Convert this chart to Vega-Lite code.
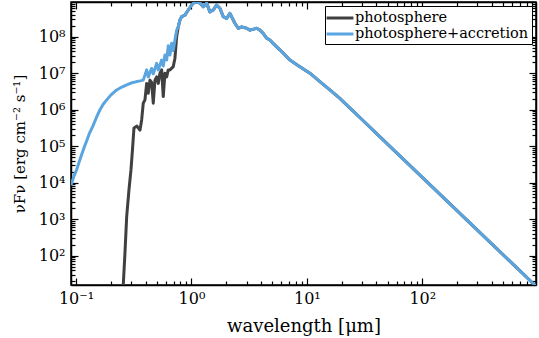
{
  "$schema": "https://vega.github.io/schema/vega-lite/v6.json",
  "width": 465,
  "height": 283,
  "autosize": {"type": "none"},
  "padding": {"left": 71, "top": 2, "right": 3, "bottom": 53},
  "background": "white",
  "config": {
    "view": {"stroke": "black", "strokeWidth": 1.5},
    "font": "DejaVu Serif",
    "axis": {
      "labelFont": "DejaVu Serif",
      "titleFont": "DejaVu Serif",
      "labelColor": "black",
      "titleColor": "black",
      "domainColor": "black",
      "domainWidth": 1.5,
      "tickColor": "black",
      "tickWidth": 1.2,
      "grid": false,
      "labelOverlap": false,
      "labelFlush": false
    },
    "legend": {"labelFont": "DejaVu Serif"}
  },
  "data": {
    "values": [
      {"series": "photosphere", "wl": 0.2529, "f": 6.3},
      {"series": "photosphere", "wl": 0.2567, "f": 15.8},
      {"series": "photosphere", "wl": 0.2655, "f": 117},
      {"series": "photosphere", "wl": 0.2748, "f": 1175},
      {"series": "photosphere", "wl": 0.2876, "f": 6310},
      {"series": "photosphere", "wl": 0.2993, "f": 22400},
      {"series": "photosphere", "wl": 0.3084, "f": 79400},
      {"series": "photosphere", "wl": 0.3178, "f": 316000},
      {"series": "photosphere", "wl": 0.3373, "f": 355000},
      {"series": "photosphere", "wl": 0.3581, "f": 275000},
      {"series": "photosphere", "wl": 0.3705, "f": 525000},
      {"series": "photosphere", "wl": 0.3825, "f": 1510000},
      {"series": "photosphere", "wl": 0.3957, "f": 1860000},
      {"series": "photosphere", "wl": 0.4093, "f": 5250000},
      {"series": "photosphere", "wl": 0.4227, "f": 2820000},
      {"series": "photosphere", "wl": 0.4372, "f": 6460000},
      {"series": "photosphere", "wl": 0.4523, "f": 5620000},
      {"series": "photosphere", "wl": 0.467, "f": 1510000},
      {"series": "photosphere", "wl": 0.4831, "f": 6460000},
      {"series": "photosphere", "wl": 0.4997, "f": 7940000},
      {"series": "photosphere", "wl": 0.516, "f": 5250000},
      {"series": "photosphere", "wl": 0.5337, "f": 10000000},
      {"series": "photosphere", "wl": 0.5521, "f": 12300000},
      {"series": "photosphere", "wl": 0.5699, "f": 2290000},
      {"series": "photosphere", "wl": 0.5896, "f": 10000000},
      {"series": "photosphere", "wl": 0.6099, "f": 7940000},
      {"series": "photosphere", "wl": 0.6296, "f": 12300000},
      {"series": "photosphere", "wl": 0.6514, "f": 12300000},
      {"series": "photosphere", "wl": 0.6957, "f": 15100000},
      {"series": "photosphere", "wl": 0.7197, "f": 25700000},
      {"series": "photosphere", "wl": 0.7446, "f": 100000000},
      {"series": "photosphere", "wl": 0.7688, "f": 186000000},
      {"series": "photosphere", "wl": 0.7953, "f": 288000000},
      {"series": "photosphere", "wl": 0.8228, "f": 355000000},
      {"series": "photosphere", "wl": 0.8784, "f": 389000000},
      {"series": "photosphere", "wl": 0.9383, "f": 537000000},
      {"series": "photosphere", "wl": 1.004, "f": 741000000},
      {"series": "photosphere", "wl": 1.072, "f": 912000000},
      {"series": "photosphere", "wl": 1.185, "f": 832000000},
      {"series": "photosphere", "wl": 1.265, "f": 661000000},
      {"series": "photosphere", "wl": 1.354, "f": 832000000},
      {"series": "photosphere", "wl": 1.446, "f": 479000000},
      {"series": "photosphere", "wl": 1.544, "f": 537000000},
      {"series": "photosphere", "wl": 1.653, "f": 741000000},
      {"series": "photosphere", "wl": 1.765, "f": 603000000},
      {"series": "photosphere", "wl": 1.885, "f": 355000000},
      {"series": "photosphere", "wl": 2.017, "f": 316000000},
      {"series": "photosphere", "wl": 2.154, "f": 437000000},
      {"series": "photosphere", "wl": 2.38, "f": 234000000},
      {"series": "photosphere", "wl": 2.542, "f": 170000000},
      {"series": "photosphere", "wl": 2.721, "f": 186000000},
      {"series": "photosphere", "wl": 3.005, "f": 170000000},
      {"series": "photosphere", "wl": 3.21, "f": 151000000},
      {"series": "photosphere", "wl": 3.668, "f": 170000000},
      {"series": "photosphere", "wl": 3.918, "f": 151000000},
      {"series": "photosphere", "wl": 4.184, "f": 123000000},
      {"series": "photosphere", "wl": 4.479, "f": 91200000},
      {"series": "photosphere", "wl": 4.783, "f": 81300000},
      {"series": "photosphere", "wl": 5.284, "f": 58900000},
      {"series": "photosphere", "wl": 5.837, "f": 43700000},
      {"series": "photosphere", "wl": 7.126, "f": 22900000},
      {"series": "photosphere", "wl": 8.698, "f": 15100000},
      {"series": "photosphere", "wl": 10.62, "f": 10000000},
      {"series": "photosphere", "wl": 12.96, "f": 5890000},
      {"series": "photosphere", "wl": 15.82, "f": 3470000},
      {"series": "photosphere", "wl": 19.31, "f": 2040000},
      {"series": "photosphere", "wl": 30, "f": 537000},
      {"series": "photosphere", "wl": 50, "f": 114000},
      {"series": "photosphere", "wl": 100, "f": 14000},
      {"series": "photosphere", "wl": 300, "f": 501},
      {"series": "photosphere", "wl": 1000, "f": 13.1},

      {"series": "photosphere+accretion", "wl": 0.0905, "f": 8500},
      {"series": "photosphere+accretion", "wl": 0.0918, "f": 9770},
      {"series": "photosphere+accretion", "wl": 0.096, "f": 15100},
      {"series": "photosphere+accretion", "wl": 0.1014, "f": 22900},
      {"series": "photosphere+accretion", "wl": 0.106, "f": 35500},
      {"series": "photosphere+accretion", "wl": 0.1116, "f": 57500},
      {"series": "photosphere+accretion", "wl": 0.118, "f": 95500},
      {"series": "photosphere+accretion", "wl": 0.1245, "f": 148000},
      {"series": "photosphere+accretion", "wl": 0.131, "f": 229000},
      {"series": "photosphere+accretion", "wl": 0.14, "f": 355000},
      {"series": "photosphere+accretion", "wl": 0.15, "f": 603000},
      {"series": "photosphere+accretion", "wl": 0.1614, "f": 1000000},
      {"series": "photosphere+accretion", "wl": 0.172, "f": 1410000},
      {"series": "photosphere+accretion", "wl": 0.1845, "f": 1860000},
      {"series": "photosphere+accretion", "wl": 0.2, "f": 2510000},
      {"series": "photosphere+accretion", "wl": 0.2249, "f": 3470000},
      {"series": "photosphere+accretion", "wl": 0.25, "f": 4170000},
      {"series": "photosphere+accretion", "wl": 0.2748, "f": 4790000},
      {"series": "photosphere+accretion", "wl": 0.3, "f": 5370000},
      {"series": "photosphere+accretion", "wl": 0.3357, "f": 5890000},
      {"series": "photosphere+accretion", "wl": 0.36, "f": 6170000},
      {"series": "photosphere+accretion", "wl": 0.3825, "f": 6460000},
      {"series": "photosphere+accretion", "wl": 0.4093, "f": 12300000},
      {"series": "photosphere+accretion", "wl": 0.4227, "f": 7940000},
      {"series": "photosphere+accretion", "wl": 0.4523, "f": 13500000},
      {"series": "photosphere+accretion", "wl": 0.467, "f": 9550000},
      {"series": "photosphere+accretion", "wl": 0.4997, "f": 18600000},
      {"series": "photosphere+accretion", "wl": 0.516, "f": 12300000},
      {"series": "photosphere+accretion", "wl": 0.5521, "f": 22900000},
      {"series": "photosphere+accretion", "wl": 0.5699, "f": 15800000},
      {"series": "photosphere+accretion", "wl": 0.5896, "f": 31600000},
      {"series": "photosphere+accretion", "wl": 0.6099, "f": 22900000},
      {"series": "photosphere+accretion", "wl": 0.6296, "f": 56200000},
      {"series": "photosphere+accretion", "wl": 0.6514, "f": 31600000},
      {"series": "photosphere+accretion", "wl": 0.6739, "f": 66100000},
      {"series": "photosphere+accretion", "wl": 0.6957, "f": 41700000},
      {"series": "photosphere+accretion", "wl": 0.7197, "f": 81300000},
      {"series": "photosphere+accretion", "wl": 0.7446, "f": 151000000},
      {"series": "photosphere+accretion", "wl": 0.7688, "f": 186000000},
      {"series": "photosphere+accretion", "wl": 0.7953, "f": 288000000},
      {"series": "photosphere+accretion", "wl": 0.8228, "f": 355000000},
      {"series": "photosphere+accretion", "wl": 0.8784, "f": 389000000},
      {"series": "photosphere+accretion", "wl": 0.9383, "f": 537000000},
      {"series": "photosphere+accretion", "wl": 1.004, "f": 741000000},
      {"series": "photosphere+accretion", "wl": 1.072, "f": 912000000},
      {"series": "photosphere+accretion", "wl": 1.185, "f": 832000000},
      {"series": "photosphere+accretion", "wl": 1.265, "f": 661000000},
      {"series": "photosphere+accretion", "wl": 1.354, "f": 832000000},
      {"series": "photosphere+accretion", "wl": 1.446, "f": 479000000},
      {"series": "photosphere+accretion", "wl": 1.544, "f": 537000000},
      {"series": "photosphere+accretion", "wl": 1.653, "f": 741000000},
      {"series": "photosphere+accretion", "wl": 1.765, "f": 603000000},
      {"series": "photosphere+accretion", "wl": 1.885, "f": 355000000},
      {"series": "photosphere+accretion", "wl": 2.017, "f": 316000000},
      {"series": "photosphere+accretion", "wl": 2.154, "f": 437000000},
      {"series": "photosphere+accretion", "wl": 2.38, "f": 234000000},
      {"series": "photosphere+accretion", "wl": 2.542, "f": 170000000},
      {"series": "photosphere+accretion", "wl": 2.721, "f": 186000000},
      {"series": "photosphere+accretion", "wl": 3.005, "f": 170000000},
      {"series": "photosphere+accretion", "wl": 3.21, "f": 151000000},
      {"series": "photosphere+accretion", "wl": 3.668, "f": 170000000},
      {"series": "photosphere+accretion", "wl": 3.918, "f": 151000000},
      {"series": "photosphere+accretion", "wl": 4.184, "f": 123000000},
      {"series": "photosphere+accretion", "wl": 4.479, "f": 91200000},
      {"series": "photosphere+accretion", "wl": 4.783, "f": 81300000},
      {"series": "photosphere+accretion", "wl": 5.284, "f": 58900000},
      {"series": "photosphere+accretion", "wl": 5.837, "f": 43700000},
      {"series": "photosphere+accretion", "wl": 7.126, "f": 22900000},
      {"series": "photosphere+accretion", "wl": 8.698, "f": 15100000},
      {"series": "photosphere+accretion", "wl": 10.62, "f": 10000000},
      {"series": "photosphere+accretion", "wl": 12.96, "f": 5890000},
      {"series": "photosphere+accretion", "wl": 15.82, "f": 3470000},
      {"series": "photosphere+accretion", "wl": 19.31, "f": 2040000},
      {"series": "photosphere+accretion", "wl": 30, "f": 537000},
      {"series": "photosphere+accretion", "wl": 50, "f": 114000},
      {"series": "photosphere+accretion", "wl": 100, "f": 14000},
      {"series": "photosphere+accretion", "wl": 300, "f": 501},
      {"series": "photosphere+accretion", "wl": 1000, "f": 13.1}
    ]
  },
  "layer": [
    {
      "mark": {"type": "line", "strokeWidth": 3, "clip": true, "strokeJoin": "round"},
      "encoding": {
        "x": {
          "field": "wl", "type": "quantitative",
          "scale": {"type": "log", "domain": [0.0905, 966], "nice": false},
          "axis": {
            "orient": "bottom",
            "title": "wavelength [μm]",
            "titleFontSize": 18, "titleFontWeight": "normal", "titlePadding": 8,
            "labelFontSize": 16, "labelPadding": 12,
            "tickCount": 12,
            "tickSize": {"condition": {"test": "abs(log(datum.value)/LN10 - round(log(datum.value)/LN10)) < 0.000001", "value": -7}, "value": -4},
            "labelExpr": "abs(log(datum.value)/LN10 - round(log(datum.value)/LN10)) < 0.000001 ? (round(log(datum.value)/LN10) == -1 ? '10⁻¹' : round(log(datum.value)/LN10) == 0 ? '10⁰' : round(log(datum.value)/LN10) == 1 ? '10¹' : round(log(datum.value)/LN10) == 2 ? '10²' : '') : ''"
          }
        },
        "y": {
          "field": "f", "type": "quantitative",
          "scale": {"type": "log", "domain": [15.7, 893000000], "nice": false},
          "axis": {
            "orient": "left",
            "title": "νFν [erg cm⁻² s⁻¹]",
            "titleFontSize": 15, "titleFontWeight": "normal", "titlePadding": 11,
            "labelFontSize": 16, "labelPadding": 13,
            "tickCount": 20,
            "tickSize": {"condition": {"test": "abs(log(datum.value)/LN10 - round(log(datum.value)/LN10)) < 0.000001", "value": -7}, "value": -4},
            "labelExpr": "abs(log(datum.value)/LN10 - round(log(datum.value)/LN10)) < 0.000001 ? (round(log(datum.value)/LN10) == 2 ? '10²' : round(log(datum.value)/LN10) == 3 ? '10³' : round(log(datum.value)/LN10) == 4 ? '10⁴' : round(log(datum.value)/LN10) == 5 ? '10⁵' : round(log(datum.value)/LN10) == 6 ? '10⁶' : round(log(datum.value)/LN10) == 7 ? '10⁷' : round(log(datum.value)/LN10) == 8 ? '10⁸' : '') : ''"
          }
        },
        "color": {
          "field": "series", "type": "nominal",
          "scale": {"domain": ["photosphere", "photosphere+accretion"], "range": ["#404040", "#5aa5df"]},
          "legend": {
            "title": null,
            "orient": "top-right",
            "offset": 4,
            "padding": 3,
            "strokeColor": "black",
            "fillColor": "white",
            "cornerRadius": 0,
            "symbolType": "M-1.9,0H1.9",
            "symbolStrokeWidth": 3,
            "symbolSize": 200,
            "symbolOffset": 3,
            "labelFontSize": 14.5,
            "labelLimit": 400,
            "labelColor": "black",
            "labelOffset": 6,
            "rowPadding": 0
          }
        }
      }
    },
    {
      "mark": {"type": "line", "opacity": 0},
      "encoding": {
        "x": {
          "field": "wl", "type": "quantitative",
          "axis": {
            "orient": "top", "title": null, "labels": false, "tickCount": 12,
            "tickSize": {"condition": {"test": "abs(log(datum.value)/LN10 - round(log(datum.value)/LN10)) < 0.000001", "value": -7}, "value": -4}
          }
        },
        "y": {
          "field": "f", "type": "quantitative",
          "axis": {
            "orient": "right", "title": null, "labels": false, "tickCount": 20,
            "tickSize": {"condition": {"test": "abs(log(datum.value)/LN10 - round(log(datum.value)/LN10)) < 0.000001", "value": -7}, "value": -4}
          }
        }
      }
    }
  ],
  "resolve": {"axis": {"x": "independent", "y": "independent"}}
}
